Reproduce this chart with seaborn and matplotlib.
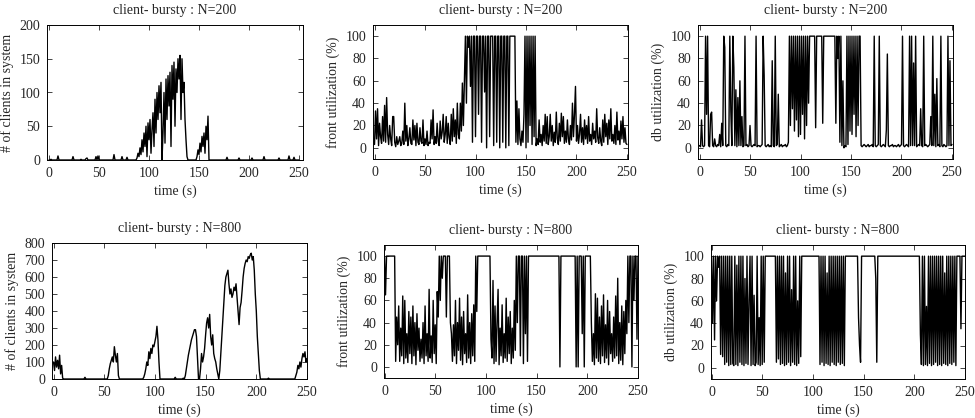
import numpy as np
import matplotlib
matplotlib.use("Agg")
import matplotlib.pyplot as plt
import seaborn as sns

# time axis, one sample per second
time_s = np.arange(0, 251)

clients_200 = [
    0, 0, 1, 0, 0, 0, 0, 0, 0, 6,
    0, 0, 0, 0, 0, 0, 0, 0, 0, 0,
    0, 0, 0, 0, 5, 0, 0, 0, 0, 0,
    0, 0, 1, 0, 0, 0, 0, 2, 3, 0,
    0, 0, 0, 0, 0, 0, 0, 5, 0, 6,
    0, 0, 0, 0, 0, 0, 0, 0, 0, 0,
    0, 0, 0, 0, 0, 8, 0, 0, 0, 0,
    0, 0, 0, 5, 0, 0, 0, 0, 4, 0,
    0, 0, 0, 0, 0, 0, 0, 0, 3, 10,
    5, 18, 8, 30, 12, 40, 20, 50, 5, 55,
    30, 60, 10, 45, 70, 20, 90, 40, 100, 60,
    110, 70, 115, 0, 40, 100, 25, 120, 60, 125,
    80, 130, 20, 140, 90, 145, 50, 135, 100, 150,
    120, 155, 60, 150, 100, 115, 60, 30, 5, 0,
    0, 0, 0, 0, 0, 0, 0, 0, 5, 15,
    8, 25, 12, 35, 20, 40, 10, 50, 30, 65,
    0, 0, 0, 0, 0, 0, 0, 0, 0, 0,
    0, 0, 0, 0, 0, 0, 0, 0, 4, 0,
    0, 0, 0, 0, 0, 0, 0, 0, 0, 0,
    3, 0, 0, 0, 0, 0, 0, 0, 0, 0,
    0, 0, 0, 3, 0, 0, 0, 0, 0, 0,
    0, 0, 0, 0, 0, 5, 0, 0, 0, 0,
    0, 0, 0, 0, 0, 0, 0, 0, 0, 0,
    3, 0, 0, 0, 0, 0, 0, 0, 0, 0,
    6, 0, 0, 0, 0, 4, 0, 0, 0, 0,
    0]

front_200 = [
    3, 33, 8, 35, 2, 22, 10, 4, 28, 6,
    38, 5, 45, 12, 3, 20, 8, 2, 28, 28,
    5, 1, 10, 3, 6, 10, 2, 4, 15, 3,
    40, 6, 20, 2, 8, 18, 4, 3, 25, 7,
    20, 2, 22, 5, 3, 18, 6, 4, 25, 2,
    8, 3, 15, 2, 5, 4, 25, 8, 34, 3,
    10, 4, 22, 6, 2, 24, 8, 14, 30, 5,
    12, 28, 4, 22, 9, 3, 30, 6, 35, 10,
    25, 4, 40, 12, 8, 40, 15, 58, 20, 60,
    100, 40, 100, 90, 100, 55, 100, 5, 100, 100,
    10, 100, 100, 30, 100, 100, 5, 100, 100, 50,
    100, 0, 100, 100, 10, 100, 100, 100, 2, 100,
    100, 5, 100, 100, 0, 100, 100, 5, 100, 100,
    0, 100, 100, 2, 100, 100, 100, 100, 100, 100,
    5, 42, 3, 35, 8, 2, 15, 5, 30, 100,
    0, 100, 5, 100, 20, 100, 3, 100, 10, 100,
    2, 8, 3, 25, 5, 12, 2, 20, 6, 30,
    4, 28, 3, 10, 30, 6, 20, 2, 14, 5,
    32, 8, 3, 22, 6, 31, 10, 28, 4, 15,
    5, 25, 8, 3, 20, 7, 40, 10, 30, 55,
    6, 20, 4, 12, 30, 5, 18, 3, 25, 8,
    20, 4, 28, 6, 12, 3, 22, 8, 15, 5,
    35, 9, 4, 18, 6, 2, 25, 5, 30, 10,
    22, 3, 25, 8, 35, 6, 12, 4, 20, 3,
    32, 7, 15, 3, 24, 8, 28, 5, 18, 4,
    3]

db_200 = [
    2, 1, 25, 2, 1, 2, 100, 30, 100, 2,
    1, 30, 32, 2, 1, 8, 2, 1, 3, 2,
    12, 1, 22, 2, 100, 90, 2, 1, 3, 2,
    100, 33, 2, 100, 72, 2, 52, 1, 45, 2,
    60, 2, 28, 1, 2, 100, 2, 3, 1, 2,
    20, 2, 1, 2, 3, 2, 100, 1, 2, 2,
    1, 2, 3, 100, 65, 2, 1, 2, 3, 1,
    2, 1, 78, 2, 1, 100, 2, 3, 48, 1,
    2, 3, 1, 2, 2, 3, 1, 2, 5, 100,
    20, 100, 35, 100, 15, 100, 25, 100, 10, 100,
    12, 100, 30, 100, 8, 100, 20, 100, 40, 100,
    100, 100, 100, 100, 100, 18, 100, 100, 100, 100,
    100, 100, 22, 100, 100, 100, 100, 100, 100, 100,
    100, 100, 100, 100, 100, 22, 100, 80, 100, 5,
    100, 2, 60, 0, 2, 1, 100, 3, 100, 15,
    100, 12, 100, 30, 100, 10, 100, 20, 100, 100,
    2, 1, 2, 3, 2, 1, 2, 3, 1, 2,
    2, 3, 1, 100, 2, 1, 2, 3, 100, 2,
    1, 2, 3, 2, 1, 16, 84, 2, 1, 2,
    2, 3, 1, 2, 2, 1, 2, 3, 1, 2,
    3, 100, 2, 1, 2, 3, 2, 1, 100, 2,
    100, 2, 76, 2, 100, 1, 2, 3, 2, 35,
    2, 1, 100, 2, 3, 2, 1, 2, 3, 28,
    2, 100, 2, 48, 1, 62, 2, 3, 1, 100,
    2, 1, 3, 2, 1, 2, 100, 2, 78, 2,
    3]

clients_800 = [
    100, 50, 130, 70, 110, 60, 140, 30, 80, 5,
    0, 0, 0, 0, 0, 0, 0, 0, 0, 0,
    0, 0, 0, 0, 0, 0, 0, 0, 0, 0,
    0, 10, 0, 0, 0, 0, 0, 0, 0, 0,
    0, 0, 0, 0, 0, 0, 0, 0, 0, 0,
    0, 0, 0, 0, 20, 60, 90, 110, 130, 100,
    190, 140, 100, 150, 20, 0, 0, 0, 0, 0,
    0, 0, 0, 0, 0, 0, 0, 0, 0, 0,
    0, 0, 0, 0, 0, 0, 0, 0, 0, 10,
    30, 60, 100, 80, 160, 120, 180, 150, 200, 190,
    220, 250, 310, 230, 100, 0, 0, 0, 0, 0,
    0, 0, 0, 0, 0, 0, 0, 0, 0, 0,
    10, 0, 0, 0, 0, 0, 0, 0, 5, 0,
    20, 60, 100, 140, 170, 200, 230, 250, 270, 290,
    290, 250, 120, 0, 0, 60, 150, 100, 130, 180,
    260, 330, 360, 300, 380, 250, 200, 260, 150, 120,
    100, 60, 30, 0, 50, 150, 250, 350, 450, 550,
    600, 620, 640, 560, 500, 530, 480, 500, 540, 520,
    560, 480, 400, 320, 420, 450, 520, 600, 650, 680,
    700, 690, 720, 710, 730, 740, 700, 720, 640, 500,
    400, 250, 150, 50, 0, 0, 0, 0, 0, 0,
    0, 0, 5, 0, 0, 0, 0, 0, 0, 0,
    0, 0, 0, 0, 0, 0, 0, 0, 0, 0,
    0, 0, 0, 0, 0, 0, 0, 0, 0, 20,
    40, 80, 60, 100, 70, 120, 150, 130, 160, 100,
    120]

front_800 = [
    100, 65, 100, 100, 100, 100, 100, 100, 100, 100,
    100, 5, 45, 20, 55, 5, 35, 10, 64, 3,
    60, 8, 30, 4, 50, 12, 45, 3, 55, 10,
    40, 2, 48, 15, 35, 5, 25, 8, 40, 3,
    55, 10, 30, 5, 70, 8, 28, 4, 60, 12,
    38, 3, 68, 45, 100, 60, 100, 80, 100, 100,
    100, 45, 100, 100, 100, 40, 30, 5, 38, 10,
    60, 3, 40, 15, 62, 6, 45, 2, 50, 12,
    30, 4, 65, 8, 40, 3, 48, 10, 56, 5,
    100, 50, 100, 100, 100, 100, 100, 100, 100, 100,
    100, 100, 100, 100, 100, 25, 8, 78, 3, 55,
    5, 40, 70, 2, 35, 10, 56, 4, 30, 8,
    62, 5, 45, 12, 50, 3, 35, 8, 60, 15,
    100, 40, 100, 100, 10, 100, 100, 3, 100, 30,
    100, 5, 100, 100, 100, 100, 100, 100, 100, 100,
    100, 100, 100, 100, 100, 100, 100, 100, 100, 100,
    100, 100, 100, 100, 100, 100, 100, 100, 100, 100,
    100, 100, 100, 0, 100, 100, 100, 100, 100, 100,
    100, 100, 100, 100, 100, 100, 100, 100, 100, 0,
    100, 0, 100, 100, 100, 30, 100, 0, 100, 100,
    100, 100, 100, 100, 40, 5, 30, 2, 66, 8,
    62, 5, 45, 3, 55, 10, 65, 4, 38, 8,
    60, 2, 50, 12, 30, 5, 45, 8, 64, 10,
    80, 3, 40, 6, 55, 2, 50, 12, 60, 30,
    100, 40, 100, 100, 0, 100, 60, 100, 100, 25,
    100]

db_800 = [
    100, 40, 100, 25, 100, 60, 100, 90, 100, 12,
    100, 10, 100, 3, 100, 5, 100, 2, 100, 3,
    100, 4, 2, 100, 3, 92, 2, 100, 5, 100,
    3, 100, 2, 80, 4, 100, 3, 60, 100, 2,
    100, 3, 65, 2, 5, 100, 3, 45, 2, 100,
    3, 100, 5, 100, 100, 100, 100, 100, 100, 100,
    100, 100, 100, 100, 5, 100, 8, 100, 3, 100,
    4, 100, 2, 85, 3, 100, 5, 100, 2, 70,
    5, 100, 3, 100, 2, 60, 4, 100, 10, 100,
    100, 100, 100, 100, 100, 100, 100, 100, 100, 100,
    100, 100, 100, 100, 100, 100, 100, 3, 100, 5,
    100, 2, 100, 4, 85, 3, 100, 2, 100, 5,
    100, 3, 100, 2, 100, 5, 100, 3, 100, 4,
    100, 2, 100, 100, 100, 100, 100, 100, 100, 100,
    100, 100, 100, 100, 100, 45, 20, 5, 100, 100,
    100, 100, 100, 100, 100, 100, 100, 100, 100, 100,
    100, 100, 80, 5, 100, 100, 100, 100, 100, 100,
    100, 100, 100, 100, 100, 100, 100, 100, 100, 100,
    100, 100, 100, 100, 100, 100, 100, 100, 100, 100,
    100, 100, 100, 100, 100, 100, 100, 100, 100, 100,
    100, 100, 100, 100, 100, 100, 30, 3, 100, 2,
    100, 3, 55, 2, 100, 4, 100, 2, 100, 3,
    100, 5, 100, 2, 100, 3, 100, 2, 100, 4,
    85, 3, 100, 2, 100, 4, 100, 3, 100, 5,
    100, 2, 100, 100, 100, 100, 35, 100, 100, 100,
    100]

titles = ["client- bursty : N=200"] * 3 + ["client- bursty : N=800"] * 3
ylabels = ["# of clients in system", "front utilization (%)", "db utilization (%)"] * 2
series = [clients_200, front_200, db_200, clients_800, front_800, db_800]

sns.set_style("ticks")
plt.rcParams["font.family"] = ["Liberation Serif", "DejaVu Serif"]
FS = 10

W, H = 975, 418
fig = plt.figure(figsize=(W / 100, H / 100), dpi=100)

# pixel boxes (left, right, top, bottom)
boxes = [(47, 303, 25, 160), (373, 628, 25, 159), (698, 953, 25, 159),
         (52, 307, 243, 379), (384, 638, 245, 378), (711, 965, 245, 379)]
xlims = [(-2, 254), (-1.5, 251), (-1.5, 251), (-1.5, 250), (-0.5, 250), (-0.5, 250)]

for i, (l, r, t, b) in enumerate(boxes):
    ax = fig.add_axes([l / W, 1 - b / H, (r - l) / W, (b - t) / H])
    sns.lineplot(x=time_s, y=series[i], ax=ax, color="black", linewidth=1.0,
                 estimator=None)
    ax.set_xlim(*xlims[i])
    ax.set_xticks([0, 50, 100, 150, 200, 250])
    if i == 0:
        ax.set_ylim(0, 200)
        ax.set_yticks(range(0, 201, 50))
    elif i == 3:
        ax.set_ylim(0, 800)
        ax.set_yticks(range(0, 801, 100))
    else:
        ax.set_ylim(-10, 110)
        ax.set_yticks(range(0, 101, 20))
    ax.set_title(titles[i], fontsize=FS, pad=8)
    ax.set_xlabel("time (s)", fontsize=FS, labelpad=3)
    ax.set_ylabel(ylabels[i], fontsize=FS, labelpad=4)
    ax.tick_params(direction="in", length=3.5, width=0.6, top=True, right=True,
                   labelsize=FS)
    ax.tick_params(axis="x", pad=5)
    ax.tick_params(axis="y", pad=5)
    for s in ax.spines.values():
        s.set_linewidth(0.7)
        s.set_color("black")

fig.savefig("out.png", dpi=100)
